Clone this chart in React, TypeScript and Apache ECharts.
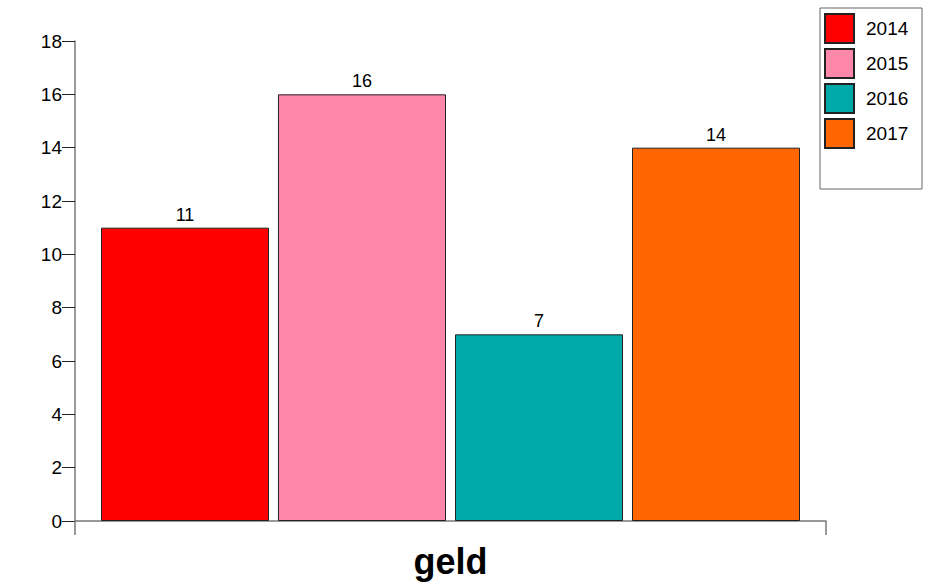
import React, { useEffect, useRef } from "react";
import * as echarts from "echarts";

const categories = ["geld"];
const seriesNames = ["2014", "2015", "2016", "2017"];
const seriesValues = [[11], [16], [7], [14]];
const seriesColors = ["#ff0000", "#ff88aa", "#00aaaa", "#ff6600"];
const yTicks = { min: 0, max: 18, interval: 2 };

const FONT = "'Liberation Sans', Arial, sans-serif";

export default function App() {
  const ref = useRef<HTMLDivElement>(null);
  useEffect(() => {
    if (!ref.current) return;
    const chart = echarts.init(ref.current, null, { renderer: "svg" });
    chart.setOption({
      animation: false,
      backgroundColor: "#ffffff",
      textStyle: { fontFamily: FONT },
      grid: { left: 75, right: 109, top: 41, bottom: 61 },
      legend: {
        orient: "vertical",
        left: 824,
        top: 13,
        padding: 0,
        itemWidth: 29,
        itemHeight: 29,
        itemGap: 4,
        icon: "rect",
        data: seriesNames,
        formatter: (n: string) => "{t|" + n + "}",
        textStyle: {
          fontSize: 19,
          color: "#000",
          fontFamily: FONT,
          rich: {
            t: { fontSize: 19, lineHeight: 20, color: "#000", fontFamily: FONT, padding: [0, 0, 0, 7] },
          },
        },
      },
      xAxis: {
        type: "category",
        data: categories,
        axisLine: { show: true, lineStyle: { color: "#777", width: 1.5 } },
        axisTick: { show: true, length: 14, lineStyle: { color: "#777", width: 1.5 } },
        axisLabel: {
          fontSize: 36,
          fontWeight: "bold",
          color: "#000",
          margin: 22,
          fontFamily: FONT,
        },
      },
      yAxis: {
        type: "value",
        min: yTicks.min,
        max: yTicks.max,
        interval: yTicks.interval,
        splitLine: { show: false },
        axisLine: { show: true, lineStyle: { color: "#777", width: 1.5 } },
        axisTick: { show: true, length: 13, lineStyle: { color: "#222", width: 1 } },
        axisLabel: { fontSize: 19, color: "#000", margin: 13, fontFamily: FONT },
      },
      graphic: [
        {
          type: "rect",
          shape: { x: 820, y: 8, width: 102, height: 181 },
          style: { fill: "none", stroke: "#666", lineWidth: 1 },
          z: -1,
        },
      ],
      series: seriesNames.map((name, i) => ({
        name,
        type: "bar",
        data: seriesValues[i],
        barWidth: 168,
        barGap: "5.36%",
        itemStyle: { color: seriesColors[i], borderColor: "#222", borderWidth: 1 },
        label: {
          show: true,
          position: "top",
          distance: 4,
          fontSize: 18,
          color: "#000",
          fontFamily: FONT,
        },
      })),
    });
    return () => chart.dispose();
  }, []);
  return <div ref={ref} style={{ width: 935, height: 582, position: "absolute", left: 0, top: 0 }} />;
}
